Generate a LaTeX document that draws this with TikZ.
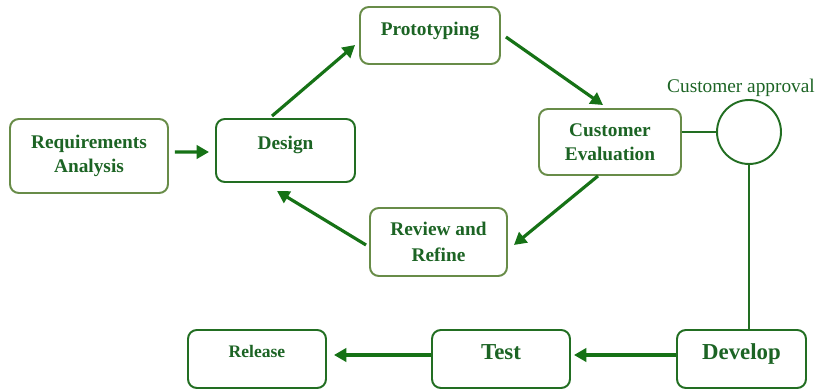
\documentclass[tikz,border=0pt]{standalone}
\usepackage{fontspec}
\setmainfont{Liberation Serif}
\usetikzlibrary{arrows.meta,calc}
\definecolor{olivegreen}{RGB}{104,140,72}
\definecolor{boxgreen}{RGB}{34,110,34}
\definecolor{textgreen}{RGB}{28,100,36}
\definecolor{arrowgreen}{RGB}{22,114,22}
\begin{document}
\begin{tikzpicture}[x=0.02cm,y=-0.02cm]

      \tikzset{stage/.style={draw=olivegreen, line width=1.1pt, rounded corners=5pt, fill=white, align=center, text=textgreen, inner sep=0pt, font=\bfseries\fontsize{11}{13.5}\selectfont},
               dstage/.style={stage, draw=boxgreen},
               uptext/.style={text depth=#1},
               flow/.style={draw=arrowgreen, line width=1.8pt, -{Triangle[length=7pt,width=7.5pt]}},
               link/.style={draw=boxgreen, line width=1.2pt}}
      \useasboundingbox (0,0) rectangle (816,391);
%% Stages
      	\node[stage, minimum width=3.16cm, minimum height=1.48cm] (req) at (89,156) {Requirements\\Analysis};
      	\node[dstage, minimum width=2.78cm, minimum height=1.26cm, uptext=9pt] (design) at (285.5,150.5) {Design};
      	\node[stage, minimum width=2.8cm, minimum height=1.14cm, uptext=8pt] (proto) at (430,35.5) {Prototyping};
      	\node[stage, minimum width=2.84cm, minimum height=1.32cm] (ce) at (610,142) {Customer\\Evaluation};
      	\node[stage, minimum width=2.74cm, minimum height=1.36cm, font=\bfseries\fontsize{11}{14.5}\selectfont] (review) at (438.5,242) {Review and\\Refine};
      	\node[draw=boxgreen, line width=1.1pt, circle, minimum size=1.28cm, inner sep=0pt,
      	      label={[xshift=-0.16cm, text=textgreen, font=\fontsize{11}{13}\selectfont, label distance=-2pt]above:Customer approval}] (circ) at (749,132) {};
      	\node[dstage, minimum width=2.58cm, minimum height=1.16cm, uptext=8.5pt, font=\bfseries\fontsize{13}{15}\selectfont] (dev) at (741.5,359) {Develop};
      	\node[dstage, minimum width=2.76cm, minimum height=1.16cm, uptext=8pt, font=\bfseries\fontsize{13}{15}\selectfont] (test) at (501,359) {Test};
      	\node[dstage, minimum width=2.76cm, minimum height=1.16cm, uptext=9pt, font=\bfseries\fontsize{10}{12}\selectfont] (release) at (257,359) {Release};
%Connectors
		\draw[flow] ($(req.east)+(6,-4)$) -- ($(design.west)+(-6,1.5)$);
		\draw[flow] ($(design.north)+(-13.5,-2)$) -- ($(proto.west)+(-4,9.5)$);
		\draw[flow] ($(proto.east)+(5,1.5)$) -- ($(ce.north)+(-7,-3)$);
		\draw[flow] ($(ce.south)+(-12,0)$) -- ($(review.east)+(6,3)$);
		\draw[flow] ($(review.west)+(-3,3)$) -- ($(design.south)+(-8.5,8)$);
		\draw[flow] ($(dev.west)+(0,-4)$) -- ($(test.east)+(3,-4)$);
		\draw[flow] ($(test.west)+(0,-4)$) -- ($(release.east)+(7,-4)$);
		\draw[link] ($(ce.east)+(0,-10)$) -- (circ.west);
		\draw[link] (circ.south) -- (circ.south |- dev.north);

	\end{tikzpicture}
\end{document}
